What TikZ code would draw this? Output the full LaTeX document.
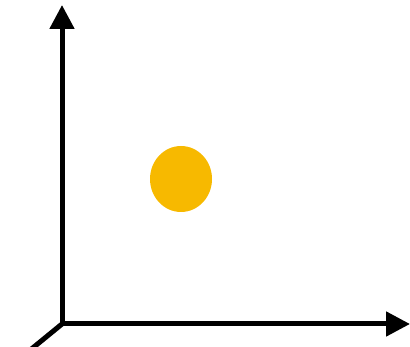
\documentclass[tikz,border=0pt]{standalone}
\usetikzlibrary{arrows.meta}
\definecolor{dotyellow}{HTML}{F7B900}
\begin{document}
\begin{tikzpicture}[x=1pt,y=-1pt,
  axis/.style={line width=5pt,-{Triangle[length=24pt,width=24pt]}},
  stub/.style={line width=5pt}]
\useasboundingbox (0,0) rectangle (410,347);
\clip (0,0) rectangle (410,347);
\coordinate (O) at (62,324);
\coordinate (Y) at (62,5);
\coordinate (X) at (410,324);
\coordinate (Z) at (29,351);
\draw[axis] (O) -- (Y);
\draw[axis] (O) -- (X);
\draw[stub] (O) -- (Z);
\fill[dotyellow] (181,179) ellipse [x radius=31, y radius=33];
\end{tikzpicture}
\end{document}
